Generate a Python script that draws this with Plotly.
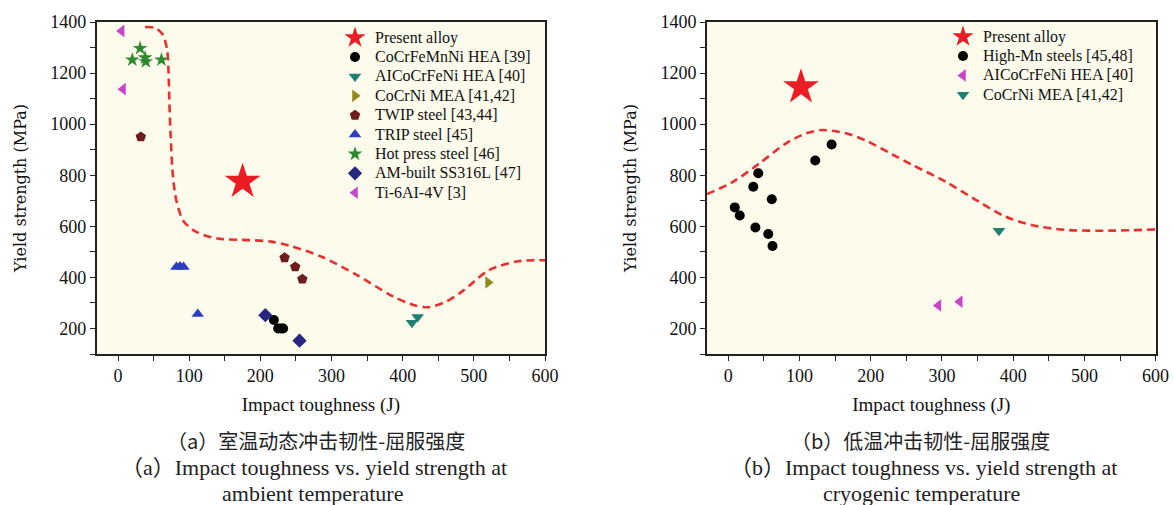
import plotly.graph_objects as go

# ---------------- data: panel (a) ambient temperature ----------------
a_present_x = [175]
a_present_y = [775]
a_cocrfemnni_x = [219, 225, 229, 232]
a_cocrfemnni_y = [233, 200, 200, 200]
a_alcocrfeni_x = [413, 421]
a_alcocrfeni_y = [222, 245]
a_cocrni_x = [520]
a_cocrni_y = [380]
a_twip_x = [32, 234, 249, 259]
a_twip_y = [950, 477, 441, 393]
a_trip_x = [82, 87, 92, 112]
a_trip_y = [441, 443, 441, 257]
a_hotpress_x = [20, 31, 38, 39, 61]
a_hotpress_y = [1252, 1297, 1260, 1245, 1252]
a_am316_x = [207, 255]
a_am316_y = [252, 152]
a_ti64_x = [5, 7]
a_ti64_y = [1365, 1137]
a_curve_x = [38, 52, 63, 69, 71, 72, 74, 77, 82, 92, 110, 140, 185, 215, 240,
             286, 336, 386, 415, 436, 461, 486, 521, 562, 600]
a_curve_y = [1380, 1377, 1350, 1290, 1200, 1100, 950, 800, 700, 620, 578, 552, 546,
             540, 525, 481, 409, 326, 292, 283, 305, 350, 428, 463, 467]

# ---------------- data: panel (b) cryogenic temperature ----------------
b_present_x = [102]
b_present_y = [1145]
b_highmn_x = [9, 16, 35, 42, 38, 61, 56, 62, 122, 145]
b_highmn_y = [674, 642, 755, 808, 595, 706, 570, 523, 858, 920]
b_alcocrfeni_x = [295, 325]
b_alcocrfeni_y = [290, 305]
b_cocrni_x = [380]
b_cocrni_y = [583]
b_curve_x = [-30, 7, 44, 81, 109, 132, 165, 193, 230, 258, 305, 352, 389, 426, 473, 538, 600]
b_curve_y = [726, 775, 847, 925, 964, 977, 964, 936, 882, 841, 775, 696, 638, 605, 586, 583, 588]

x_ticks = [0, 100, 200, 300, 400, 500, 600]
y_ticks = [200, 400, 600, 800, 1000, 1200, 1400]

SERIF = "Liberation Serif, Times New Roman, serif"
RED = "#ec1c24"

fig = go.Figure()

def label(n):
    return "<span style='font-size:16px'>" + n + "</span>"

def pts(x, y, name, symbol, color, size, xa, ya, legend):
    fig.add_trace(go.Scatter(
        x=x, y=y, mode="markers", name=label(name),
        marker=dict(symbol=symbol, color=color, size=size, line=dict(width=0)),
        xaxis=xa, yaxis=ya, legend=legend))

CURVE = dict(color="#e8302e", width=2.6, dash="8px,5px", shape="spline", smoothing=0.8)

# panel a
fig.add_trace(go.Scatter(x=a_curve_x, y=a_curve_y, mode="lines", showlegend=False,
                         line=CURVE, xaxis="x", yaxis="y", hoverinfo="skip"))
pts(a_present_x, a_present_y, "Present alloy", "star", RED, 27, "x", "y", "legend")
pts(a_cocrfemnni_x, a_cocrfemnni_y, "CoCrFeMnNi HEA [39]", "circle", "#000000", 10, "x", "y", "legend")
pts(a_alcocrfeni_x, a_alcocrfeni_y, "AICoCrFeNi HEA [40]", "triangle-down", "#1f7f72", 11, "x", "y", "legend")
pts(a_cocrni_x, a_cocrni_y, "CoCrNi MEA [41,42]", "triangle-right", "#8f8a1f", 11, "x", "y", "legend")
pts(a_twip_x, a_twip_y, "TWIP steel [43,44]", "pentagon", "#6e1c1c", 11, "x", "y", "legend")
pts(a_trip_x, a_trip_y, "TRIP steel [45]", "triangle-up", "#2b3fc0", 11, "x", "y", "legend")
pts(a_hotpress_x, a_hotpress_y, "Hot press steel [46]", "star", "#2e8a2e", 11, "x", "y", "legend")
pts(a_am316_x, a_am316_y, "AM-built SS316L [47]", "diamond", "#26287e", 11, "x", "y", "legend")
pts(a_ti64_x, a_ti64_y, "Ti-6AI-4V [3]", "triangle-left", "#c845c8", 11, "x", "y", "legend")

# panel b
fig.add_trace(go.Scatter(x=b_curve_x, y=b_curve_y, mode="lines", showlegend=False,
                         line=CURVE, xaxis="x2", yaxis="y2", hoverinfo="skip"))
pts(b_present_x, b_present_y, "Present alloy", "star", RED, 27, "x2", "y2", "legend2")
pts(b_highmn_x, b_highmn_y, "High-Mn steels [45,48]", "circle", "#000000", 10, "x2", "y2", "legend2")
pts(b_alcocrfeni_x, b_alcocrfeni_y, "AICoCrFeNi HEA [40]", "triangle-left", "#c845c8", 11, "x2", "y2", "legend2")
pts(b_cocrni_x, b_cocrni_y, "CoCrNi MEA [41,42]", "triangle-down", "#1f7f72", 11, "x2", "y2", "legend2")

W, H = 1174, 505
def px_x(p): return p / W
def px_y(p): return 1 - p / H

axis_common = dict(showline=True, linecolor="#222222", linewidth=1.6, mirror=True,
                   ticks="outside", ticklen=5, tickwidth=1.3, tickcolor="#222222",
                   showgrid=False, zeroline=False, automargin=False,
                   tickfont=dict(family=SERIF, size=18, color="#111111"))

xa = dict(axis_common, range=[-30, 600], tickvals=x_ticks,
          minor=dict(dtick=50, tick0=0, ticks="outside", ticklen=5, tickwidth=1.3, tickcolor="#222222"),
          title=dict(text="Impact toughness (J)", font=dict(family=SERIF, size=19, color="#111111"), standoff=12))
ya = dict(axis_common, range=[100, 1400], tickvals=y_ticks,
          minor=dict(dtick=100, tick0=0, ticks="outside", ticklen=5, tickwidth=1.3, tickcolor="#222222"),
          title=dict(text="Yield strength (MPa)", font=dict(family="DejaVu Serif, serif", size=16, color="#111111"), standoff=20))

LEG = dict(xanchor="left", yanchor="top", bgcolor="rgba(0,0,0,0)",
           font=dict(family=SERIF, size=12.6, color="#111111"),
           tracegroupgap=0, itemsizing="trace")

fig.update_layout(
    width=W, height=H,
    margin=dict(l=0, r=0, t=0, b=0),
    paper_bgcolor="#ffffff",
    plot_bgcolor="#fdfcec",
    showlegend=True,
    xaxis=dict(xa, domain=[px_x(96.7), px_x(545)], anchor="y"),
    yaxis=dict(ya, domain=[px_y(354), px_y(22)], anchor="x"),
    xaxis2=dict(xa, domain=[px_x(707), px_x(1155.6)], anchor="y2"),
    yaxis2=dict(ya, domain=[px_y(354), px_y(22)], anchor="x2"),
    legend=dict(LEG, x=px_x(335), y=px_y(23)),
    legend2=dict(LEG, x=px_x(943), y=px_y(22)),
)

CAP_CN = dict(family="Noto Sans CJK SC, " + SERIF, size=20, color="#222222")
CAP_EN = dict(family=SERIF + ", Noto Sans CJK SC", size=22, color="#222222")
captions = [
    (316, 440, "（a）室温动态冲击韧性-屈服强度", CAP_CN),
    (314, 467, "（a）Impact toughness vs. yield strength at", CAP_EN),
    (312, 493, "ambient temperature", CAP_EN),
    (920, 440, "（b）低温冲击韧性-屈服强度", CAP_CN),
    (924, 467, "（b）Impact toughness vs. yield strength at", CAP_EN),
    (921, 493, "cryogenic temperature", CAP_EN),
]
for cx, cy, txt, fnt in captions:
    fig.add_annotation(x=px_x(cx), y=px_y(cy), xref="paper", yref="paper",
                       text=txt, showarrow=False, xanchor="center", yanchor="middle",
                       font=fnt)

fig.write_html("out.html")
